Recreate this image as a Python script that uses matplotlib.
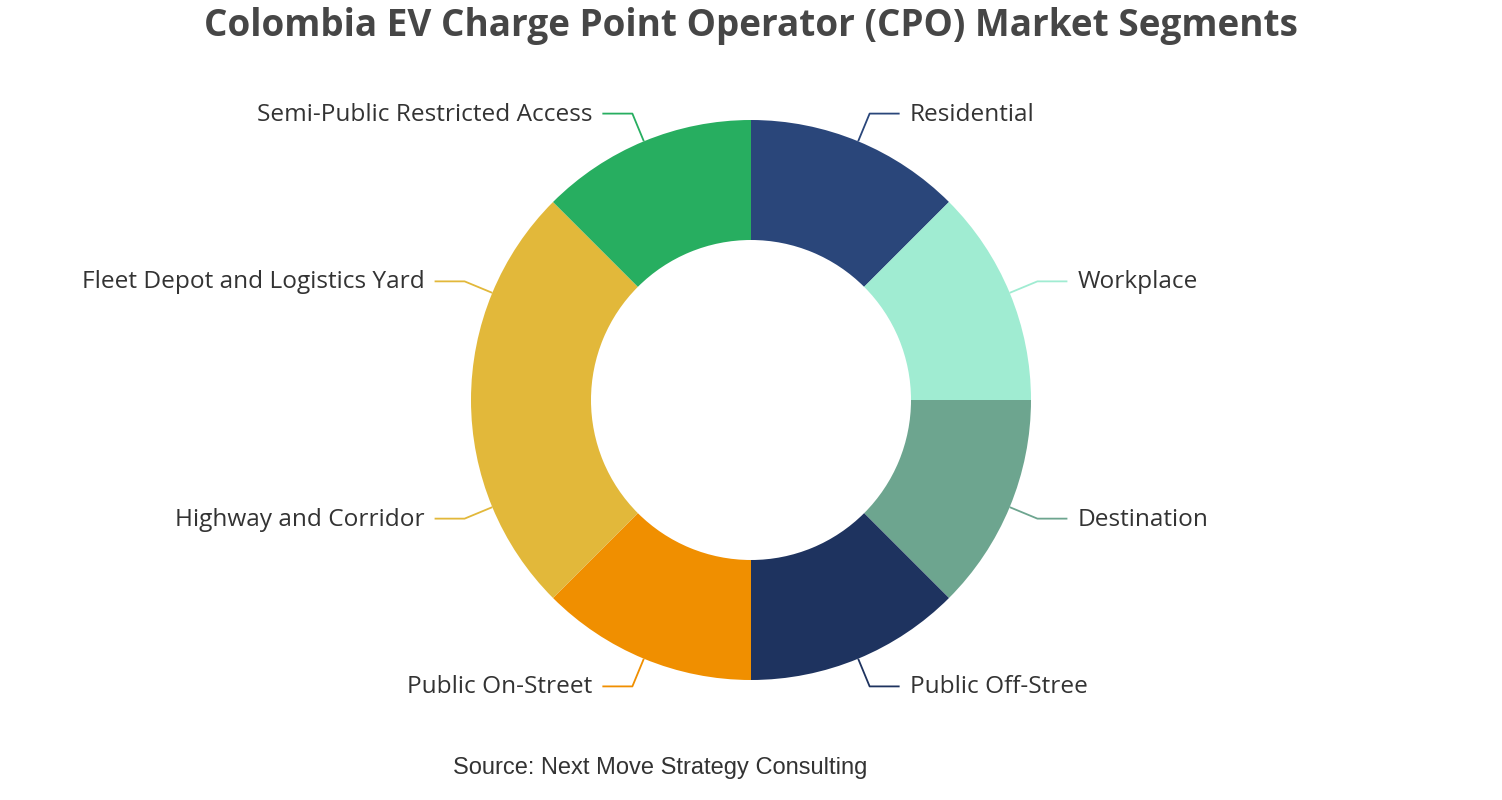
import numpy as np
import matplotlib
matplotlib.use('Agg')
import matplotlib.pyplot as plt

# Dati del grafico
segmenti = ['Residential', 'Workplace', 'Destination', 'Public Off-Stree',
            'Public On-Street', 'Highway and Corridor',
            'Fleet Depot and Logistics Yard', 'Semi-Public Restricted Access']
valori = [1, 1, 1, 1, 1, 1, 1, 1]
colori = ['#2A467A', '#A0ECD2', '#6DA58F', '#1E335F',
          '#F08F00', '#E2B83A', '#E2B83A', '#27AE60']

titolo = 'Colombia EV Charge Point Operator (CPO) Market Segments'
fonte = 'Source: Next Move Strategy Consulting'

W, H = 1502, 800
fig = plt.figure(figsize=(W / 100, H / 100), dpi=100)
ax = fig.add_axes([0, 0, 1, 1])

cx, cy = 751, 400
r_out, r_in = 280, 160

wedges, _ = ax.pie(valori, colors=colori, startangle=90, counterclock=False,
                   radius=r_out, center=(cx, cy), frame=True,
                   wedgeprops=dict(width=r_out - r_in, linewidth=0))
ax.set_xlim(0, W); ax.set_ylim(0, H)
ax.set_aspect('equal'); ax.axis('off')

# Etichette con linee guida
for w, lab, col in zip(wedges, segmenti, colori):
    ang = np.deg2rad((w.theta1 + w.theta2) / 2)
    dx, dy = np.cos(ang), np.sin(ang)
    x0, y0 = cx + r_out * dx, cy + r_out * dy
    x1, y1 = cx + (r_out + 30) * dx, cy + (r_out + 30) * dy
    s = 1 if dx >= 0 else -1
    x2 = x1 + 30 * s
    ax.plot([x0, x1, x2], [y0, y1, y1], color=col, lw=1.3, solid_capstyle='butt')
    ax.text(x2 + 10 * s, y1 - 1, lab, ha='left' if s > 0 else 'right', va='center',
            fontsize=17.6, color='#333333', family='Open Sans')

fig.text(0.5, 1 - 26 / H, titolo, ha='center', va='center', fontsize=26.6,
         fontweight='bold', color='#464646', family='Open Sans')
fig.text(660 / W, 1 - 768 / H, fonte, ha='center', va='center', fontsize=17,
         color='#333333', family='Liberation Sans')

fig.savefig('out.png', dpi=100)
